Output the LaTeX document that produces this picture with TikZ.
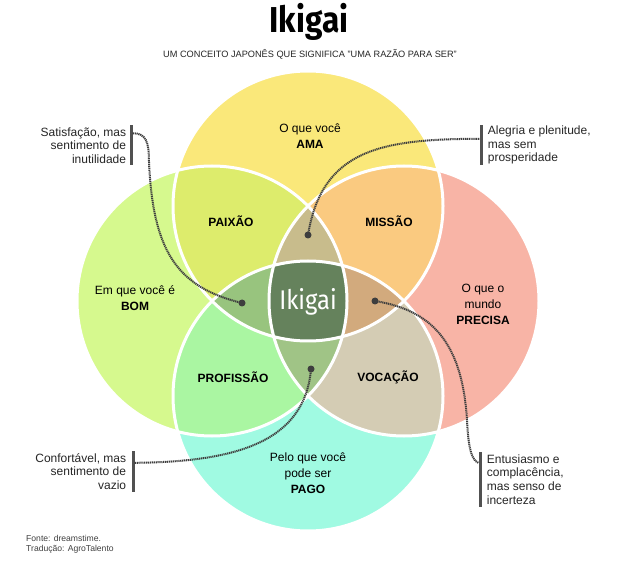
\documentclass[tikz,border=0pt]{standalone}
\usepackage{fontspec}
\setmainfont{Liberation Sans}
\newfontfamily\ikifont[FakeStretch=0.88]{Fira Sans}
\usepackage{xcolor}
\usepackage{tikz}
\usetikzlibrary{positioning}

\definecolor{amaYellow}{RGB}{250,232,122}
\definecolor{bomGreen}{RGB}{214,249,142}
\definecolor{precisaRed}{RGB}{248,180,166}
\definecolor{pagoCyan}{RGB}{160,250,226}
\definecolor{paixaoCol}{RGB}{221,236,108}
\definecolor{missaoCol}{RGB}{250,202,128}
\definecolor{profissaoCol}{RGB}{170,246,162}
\definecolor{vocacaoCol}{RGB}{212,204,180}
\definecolor{lensTop}{RGB}{200,188,140}
\definecolor{lensLeft}{RGB}{152,196,126}
\definecolor{lensRight}{RGB}{210,170,125}
\definecolor{lensBottom}{RGB}{160,196,134}
\definecolor{ikigaiCol}{RGB}{101,130,92}
\definecolor{noteGray}{RGB}{62,62,62}

\newcommand{\circAma}{(308,206) circle (135)}
\newcommand{\circBom}{(212,301) circle (135)}
\newcommand{\circPrecisa}{(404,301) circle (135)}
\newcommand{\circPago}{(308,396) circle (135)}

\begin{document}
\begin{tikzpicture}[
        x=1pt, y=-1pt,
        area/.style={
            align=center,
            inner sep=0pt,
            font=\fontsize{12}{16}\selectfont
        },
        zone/.style={
            inner sep=0pt,
            font=\fontsize{12}{16}\selectfont\bfseries
        },
        notel/.style={
            align=right,
            inner sep=0pt,
            text=black!85,
            font=\fontsize{12}{13.7}\selectfont
        },
        noter/.style={
            align=left,
            inner sep=0pt,
            text=black!85,
            font=\fontsize{12}{13.7}\selectfont
        },
        bar/.style={fill=noteGray!90, minimum width=3pt, inner sep=0pt},
        spot/.style={circle, fill=noteGray, inner sep=0pt, minimum size=7pt},
        dotline/.style={draw=noteGray, line width=2pt, dash pattern=on 1.2pt off 0.7pt},
        ring/.style={draw=white, line width=3pt}
    ]

    \fill [white] (0,0) rectangle (640,577);
    \useasboundingbox (0,0) rectangle (640,577);

    % the four circles and their overlaps
    \fill [amaYellow] \circAma;
    \fill [bomGreen] \circBom;
    \fill [precisaRed] \circPrecisa;
    \fill [pagoCyan] \circPago;
    \begin{scope}
        \clip \circAma;
        \fill [paixaoCol] \circBom;
        \fill [missaoCol] \circPrecisa;
    \end{scope}
    \begin{scope}
        \clip \circPago;
        \fill [profissaoCol] \circBom;
        \fill [vocacaoCol] \circPrecisa;
    \end{scope}
    \begin{scope}
        \clip \circBom; \clip \circPrecisa;
        \fill [lensTop] \circAma;
        \fill [lensBottom] \circPago;
    \end{scope}
    \begin{scope}
        \clip \circAma; \clip \circPago;
        \fill [lensLeft] \circBom;
        \fill [lensRight] \circPrecisa;
    \end{scope}
    \begin{scope}
        \clip \circAma; \clip \circPago; \clip \circBom;
        \fill [ikigaiCol] \circPrecisa;
    \end{scope}
    \draw [ring] \circAma;
    \draw [ring] \circBom;
    \draw [ring] \circPrecisa;
    \draw [ring] \circPago;

    \node (title) [anchor=base] at (309,32.5) {\ikifont\bfseries\fontsize{36}{36}\selectfont Ikigai};
    \node (subtitle) [anchor=base, font=\fontsize{9.2}{11}\selectfont, text=black!85] at (310,57.5)
        {UM CONCEITO JAPONÊS QUE SIGNIFICA "UMA RAZÃO PARA SER"};

    \node (ama) [area] at (310,136.5) {O que você\\\textbf{AMA}};
    \node (bom) [area] at (135,298) {Em que você é\\\textbf{BOM}};
    \node (precisa) [area] at (483,304) {O que o\\mundo\\\textbf{PRECISA}};
    \node (pago) [area] at (308,473) {Pelo que você\\pode ser\\\textbf{PAGO}};

    \node (paixao) [zone] at (231,221) {PAIXÃO};
    \node (missao) [zone] at (389,221) {MISSÃO};
    \node (profissao) [zone] at (233,377) {PROFISSÃO};
    \node (vocacao) [zone] at (388,377) {VOCAÇÃO};

    \node (ikigai) [anchor=base, text=white] at (308,309.5) {\ikifont\fontsize{27}{28}\selectfont Ikigai};

    % side notes
    \node (barSat) [bar, minimum height=40pt] at (131,145.5) {};
    \node (noteSat) [notel, left=3pt of barSat] {Satisfação, mas\\sentimento de\\inutilidade};
    \node (barAle) [bar, minimum height=40pt] at (481,145) {};
    \node (noteAle) [noter, right=5pt of barAle] {Alegria e plenitude,\\mas sem\\prosperidade};
    \node (barCon) [bar, minimum height=41pt] at (133,471.5) {};
    \node (noteCon) [notel, left=5pt of barCon] {Confortável, mas\\sentimento de\\vazio};
    \node (barEnt) [bar, minimum height=55pt] at (480,479.5) {};
    \node (noteEnt) [noter, right=5pt of barEnt] {Entusiasmo e\\complacência,\\mas senso de\\incerteza};

    \node (spotSat) [spot] at (242,303) {};
    \node (spotAle) [spot] at (308,235) {};
    \node (spotCon) [spot] at (311,369) {};
    \node (spotEnt) [spot] at (375,301) {};

    \draw [dotline] ([yshift=-8pt]barSat.north east) .. controls (146,133) and (149,142) .. (149,162)
        .. controls (153,250) and (176,287) .. (spotSat.center);
    \draw [dotline] ([yshift=-14pt]barAle.north west) .. controls (380,139) and (322,150) .. (spotAle.center);
    \draw [dotline] ([yshift=-12pt]barCon.north east) .. controls (240,462) and (305,440) .. (spotCon.center);
    \draw [dotline] ([yshift=-11pt]barEnt.north west) .. controls (470,460) and (468,440) .. (467,420)
        .. controls (462,340) and (430,310) .. (spotEnt.center);

    \node (fonte) [anchor=north west, align=left, inner sep=0pt, text=black!75,
        font=\fontsize{8.6}{10}\selectfont] at (26,535) {Fonte: dreamstime.\\Tradução: AgroTalento};

\end{tikzpicture}
\end{document}
